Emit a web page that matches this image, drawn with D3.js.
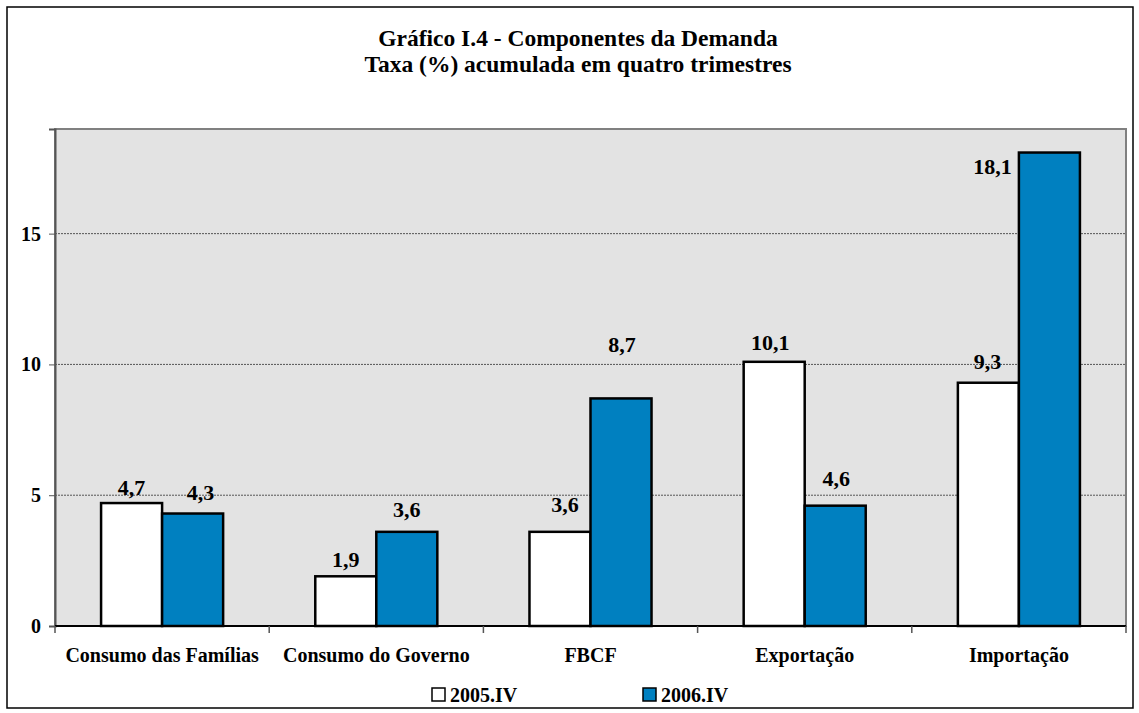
<!DOCTYPE html>
<html>
<head>
<meta charset="utf-8">
<script src="https://d3js.org/d3.v7.min.js"></script>
<style>
  body { margin: 0; background: #fff; }
  text { font-family: "Liberation Serif", "Times New Roman", Times, serif; font-weight: bold; fill: #000; }
</style>
</head>
<body>
<div id="chart"></div>
<script>
// data
var categories = ["Consumo das Famílias", "Consumo do Governo", "FBCF", "Exportação", "Importação"];
var seriesNames = ["2005.IV", "2006.IV"];
var values2005 = [4.7, 1.9, 3.6, 10.1, 9.3];
var values2006 = [4.3, 3.6, 8.7, 4.6, 18.1];
var yTicks = [0, 5, 10, 15];

// label nudges (style only): [dx, dy] per bar, series 2005 then 2006
var nudge2005 = [[0, 0], [0, -1], [5, -12], [-4, -4], [-1, -6]];
var nudge2006 = [[8, -6], [0, -7], [1, -38], [1, -12], [-57, 29]];

var colors = ["#ffffff", "#0080c0"];

var W = 1139, H = 713;
var plot = {left: 55, top: 129, right: 1126, bottom: 626};

var svg = d3.select("#chart").append("svg")
  .attr("width", W)
  .attr("height", H);

// outer frame
svg.append("rect")
  .attr("x", 7).attr("y", 7)
  .attr("width", 1126).attr("height", 701)
  .attr("fill", "none")
  .attr("stroke", "#000")
  .attr("stroke-width", 1.5);

// title
svg.append("text")
  .attr("x", 578).attr("y", 46)
  .attr("text-anchor", "middle")
  .style("font-size", "23.5px")
  .text("Gráfico I.4 - Componentes da Demanda");
svg.append("text")
  .attr("x", 578).attr("y", 72)
  .attr("text-anchor", "middle")
  .style("font-size", "23.5px")
  .text("Taxa (%) acumulada em quatro trimestres");

var x = d3.scaleBand()
  .domain(categories)
  .range([plot.left, plot.right])
  .paddingInner(0)
  .paddingOuter(0);

var xSub = d3.scaleBand()
  .domain(seriesNames)
  .range([0, x.bandwidth()])
  .paddingInner(0)
  .paddingOuter(0.755);

var y = d3.scaleLinear()
  .domain([0, 19])
  .range([plot.bottom, plot.top]);

// plot background
svg.append("rect")
  .attr("x", plot.left).attr("y", plot.top)
  .attr("width", plot.right - plot.left)
  .attr("height", plot.bottom - plot.top)
  .attr("fill", "#e3e3e3")
  .attr("stroke", "#808080")
  .attr("stroke-width", 2);

// grid lines
svg.append("g")
  .selectAll("line")
  .data(yTicks.filter(function(d) { return d > 0; }))
  .enter().append("line")
    .attr("x1", plot.left).attr("x2", plot.right)
    .attr("y1", function(d) { return y(d); })
    .attr("y2", function(d) { return y(d); })
    .attr("stroke", "#555")
    .attr("stroke-width", 1)
    .attr("stroke-dasharray", "2,1");

// y axis
var yAxis = svg.append("g")
  .attr("transform", "translate(" + plot.left + ",0)")
  .call(d3.axisLeft(y).tickValues(yTicks).tickSize(6).tickPadding(8).tickFormat(d3.format("d")));
yAxis.select(".domain").attr("stroke", "#555").attr("stroke-width", 2);
yAxis.selectAll(".tick line").attr("stroke", "#555");
yAxis.selectAll(".tick text")
  .style("font-size", "20px")
  .style("font-family", "'Liberation Serif', 'Times New Roman', serif")
  .style("font-weight", "bold")
  .attr("fill", "#000");

// bars
var series = [values2005, values2006];
var nudges = [nudge2005, nudge2006];
series.forEach(function(vals, s) {
  var g = svg.append("g");
  g.selectAll("rect")
    .data(vals)
    .enter().append("rect")
      .attr("x", function(d, i) { return x(categories[i]) + xSub(seriesNames[s]); })
      .attr("y", function(d) { return y(d); })
      .attr("width", xSub.bandwidth())
      .attr("height", function(d) { return y(0) - y(d); })
      .attr("fill", colors[s])
      .attr("stroke", "#000")
      .attr("stroke-width", 2.5);
  g.selectAll("text")
    .data(vals)
    .enter().append("text")
      .attr("x", function(d, i) { return x(categories[i]) + xSub(seriesNames[s]) + xSub.bandwidth() / 2 + nudges[s][i][0]; })
      .attr("y", function(d, i) { return y(d) - 8 + nudges[s][i][1]; })
      .attr("text-anchor", "middle")
      .style("font-size", "22px")
      .text(function(d) { return d3.format(".1f")(d).replace(".", ","); });
});

// x axis (ticks at category boundaries)
svg.append("line")
  .attr("x1", plot.left).attr("x2", plot.right)
  .attr("y1", plot.bottom).attr("y2", plot.bottom)
  .attr("stroke", "#000").attr("stroke-width", 2);
var bounds = categories.map(function(c) { return x(c); }).concat([plot.right]);
svg.append("g").selectAll("line")
  .data(bounds)
  .enter().append("line")
    .attr("x1", function(d) { return d; }).attr("x2", function(d) { return d; })
    .attr("y1", plot.bottom).attr("y2", plot.bottom + 7)
    .attr("stroke", "#555").attr("stroke-width", 1.5);
svg.append("g").selectAll("text")
  .data(categories)
  .enter().append("text")
    .attr("x", function(d) { return x(d) + x.bandwidth() / 2; })
    .attr("y", 662)
    .attr("text-anchor", "middle")
    .style("font-size", "20px")
    .text(function(d) { return d; });

// legend
var legendX = [432, 643];
seriesNames.forEach(function(name, s) {
  svg.append("rect")
    .attr("x", legendX[s]).attr("y", 688)
    .attr("width", 13).attr("height", 13)
    .attr("fill", colors[s])
    .attr("stroke", "#000")
    .attr("stroke-width", 1.5);
  svg.append("text")
    .attr("x", legendX[s] + 18).attr("y", 702)
    .style("font-size", "20px")
    .text(name);
});
</script>
</body>
</html>
